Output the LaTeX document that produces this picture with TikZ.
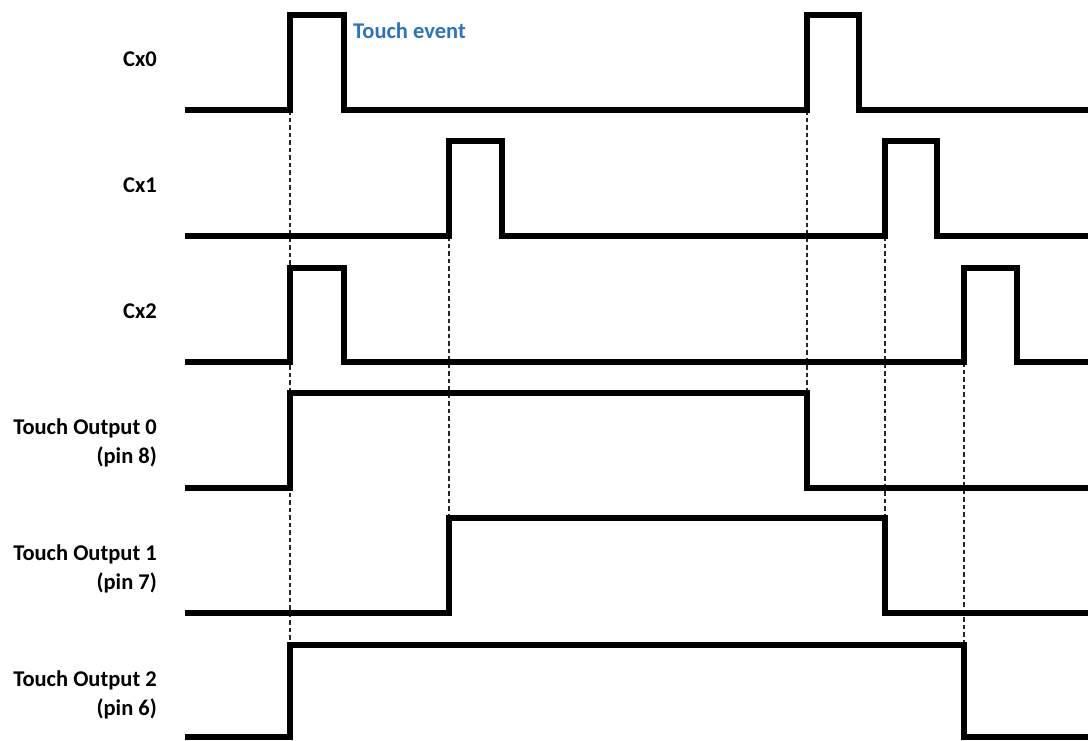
\documentclass[tikz,border=0pt]{standalone}
\usepackage{fontspec}
\setmainfont{Carlito}
\usepackage{tikz}
\definecolor{evblue}{RGB}{46,117,182}
\tikzset{
  wave/.style ={line width=5.5pt, line join=miter},
  guide/.style={line width=1.4pt, draw=black!85, dash pattern=on 4.5pt off 3pt},
  lbl/.style  ={font=\bfseries\fontsize{22.5}{28.5}\selectfont, align=right, anchor=east, inner sep=0pt},
  evt/.style  ={font=\bfseries\fontsize{22.5}{27}\selectfont, text=evblue, anchor=base west, inner sep=0pt},
}

\begin{document}
\begin{tikzpicture}[x=1pt, y=-1pt]
  \useasboundingbox (0,0) rectangle (1088,740);
  % dashed guides between edges
  \draw[guide] (290,110) -- (290,645);
  \draw[guide] (449,236) -- (449,518);
  \draw[guide] (807,110) -- (807,393);
  \draw[guide] (885,236) -- (885,518);
  \draw[guide] (964,362) -- (964,645);
  % waveforms
  \draw[wave] (185,110) -- (290,110) -- (290,15) -- (344,15) -- (344,110)
    -- (807,110) -- (807,15) -- (859,15) -- (859,110) -- (1088,110);
  \draw[wave] (185,236) -- (449,236) -- (449,141) -- (502,141) -- (502,236)
    -- (885,236) -- (885,141) -- (937,141) -- (937,236) -- (1088,236);
  \draw[wave] (185,362) -- (290,362) -- (290,268) -- (344,268) -- (344,362)
    -- (964,362) -- (964,268) -- (1017,268) -- (1017,362) -- (1088,362);
  \draw[wave] (185,488) -- (290,488) -- (290,393) -- (807,393) -- (807,488) -- (1088,488);
  \draw[wave] (185,613) -- (449,613) -- (449,518) -- (885,518) -- (885,613) -- (1088,613);
  \draw[wave] (185,737) -- (290,737) -- (290,645) -- (964,645) -- (964,737) -- (1088,737);
  % labels
  \node[lbl, anchor=base east] (cx0) at (157,66) {Cx0};
  \node[lbl, anchor=base east] (cx1) at (157,192) {Cx1};
  \node[lbl, anchor=base east] (cx2) at (157,318) {Cx2};
  \node[lbl] (out0) at (157,443) {Touch Output 0\\(pin 8)};
  \node[lbl] (out1) at (157,569) {Touch Output 1\\(pin 7)};
  \node[lbl] (out2) at (157,695) {Touch Output 2\\(pin 6)};
  \node[evt] (ev) at (353,38.5) {Touch event};
\end{tikzpicture}
\end{document}
